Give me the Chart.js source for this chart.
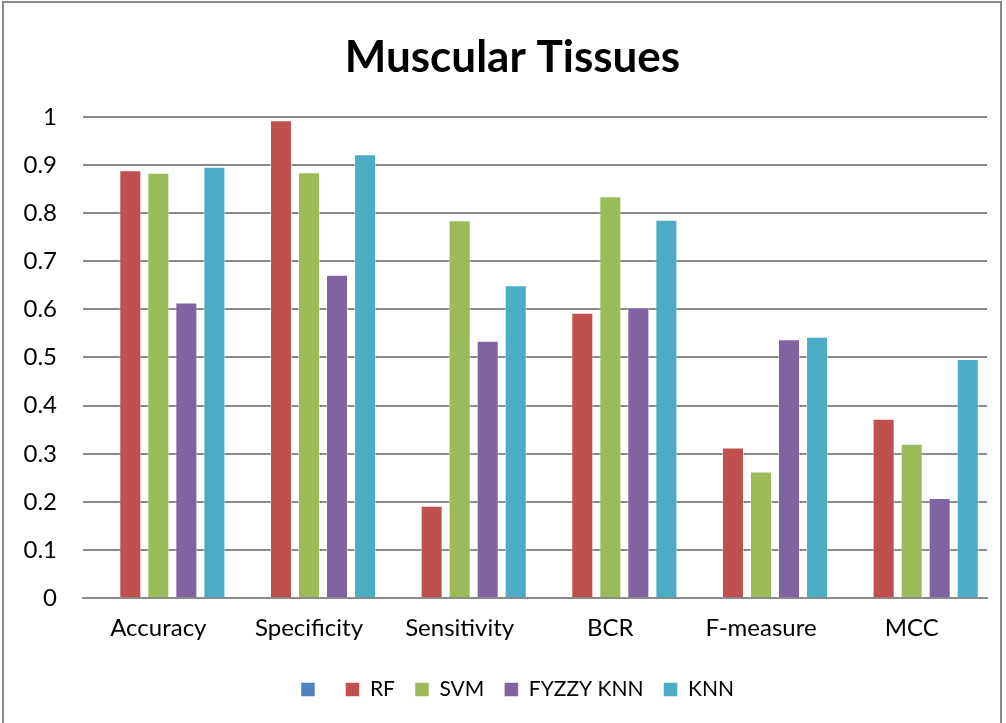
<!DOCTYPE html>
<html>
<head>
<meta charset="utf-8">
<script src="https://cdn.jsdelivr.net/npm/chart.js@4/dist/chart.umd.min.js"></script>
<style>
  body { margin: 0; background: #fff; }
  #frame { position: absolute; left: 2px; top: 1px; width: 1000px; height: 740px;
           border: 2px solid #8a8a8a; box-sizing: border-box; }
  #wrap { position: absolute; left: 0; top: 0; width: 1006px; height: 723px; }
</style>
</head>
<body>
<div id="frame"></div>
<div id="wrap"><canvas id="tissueChart"></canvas></div>
<script>
// 카테고리와 시리즈 값
const categories = ['Accuracy', 'Specificity', 'Sensitivity', 'BCR', 'F-measure', 'MCC'];
const blank = [null, null, null, null, null, null];
const rf    = [0.889, 0.993, 0.192, 0.593, 0.313, 0.373];
const svm   = [0.884, 0.885, 0.785, 0.835, 0.263, 0.321];
const fknn  = [0.614, 0.672, 0.535, 0.604, 0.538, 0.208];
const knn   = [0.896, 0.922, 0.650, 0.786, 0.543, 0.497];
const yTicks = [0, 0.1, 0.2, 0.3, 0.4, 0.5, 0.6, 0.7, 0.8, 0.9, 1];

Chart.defaults.font.family = 'Lato, "Open Sans", sans-serif';
Chart.defaults.color = '#000';

// 제목과 범례를 원본처럼 약간 오른쪽으로 이동
const nudge = {
    id: 'nudge',
    afterLayout(chart) {
        chart.legend.left += 24; chart.legend.right += 24;
        chart.titleBlock.left += 19; chart.titleBlock.right += 19;
    }
};

const ctx = document.getElementById('tissueChart').getContext('2d');
new Chart(ctx, {
    type: 'bar',
    data: {
        labels: categories,
        datasets: [
            { label: '', data: blank, backgroundColor: '#4F81BD' },
            { label: 'RF', data: rf, backgroundColor: '#C0504D' },
            { label: 'SVM', data: svm, backgroundColor: '#9BBB59' },
            { label: 'FYZZY KNN', data: fknn, backgroundColor: '#8064A2' },
            { label: 'KNN', data: knn, backgroundColor: '#4BACC6' },
        ],
    },
    plugins: [nudge],
    options: {
        responsive: true,
        maintainAspectRatio: false,
        animation: false,
        datasets: {
            bar: { categoryPercentage: 0.93, barPercentage: 0.786, borderWidth: 1, borderColor: 'rgba(255,255,255,0.5)' }
        },
        layout: { padding: { left: 0, right: 19, top: 31, bottom: 13 } },
        plugins: {
            title: {
                display: true,
                text: 'Muscular Tissues',
                font: { size: 44, weight: 'bold' },
                color: '#000',
                padding: { top: 0, bottom: 33 }
            },
            legend: {
                position: 'bottom',
                labels: {
                    boxWidth: 14, boxHeight: 14, padding: 20,
                    font: { size: 21 }, color: '#000'
                }
            },
            tooltip: { enabled: false }
        },
        scales: {
            x: {
                grid: { display: false, drawTicks: false },
                border: { color: '#8a8a8a', width: 2 },
                ticks: { font: { size: 24 }, padding: 16, color: '#000' }
            },
            y: {
                min: 0, max: 1,
                afterFit: s => { s.width = 83; },
                afterBuildTicks: s => { s.ticks = yTicks.map(v => ({ value: v })); },
                grid: { color: '#8a8a8a', lineWidth: 2, drawTicks: false },
                border: { display: false },
                ticks: {
                    font: { size: 24 }, padding: 26, color: '#000',
                    callback: v => String(+v.toFixed(1))
                }
            }
        }
    }
});
</script>
</body>
</html>
